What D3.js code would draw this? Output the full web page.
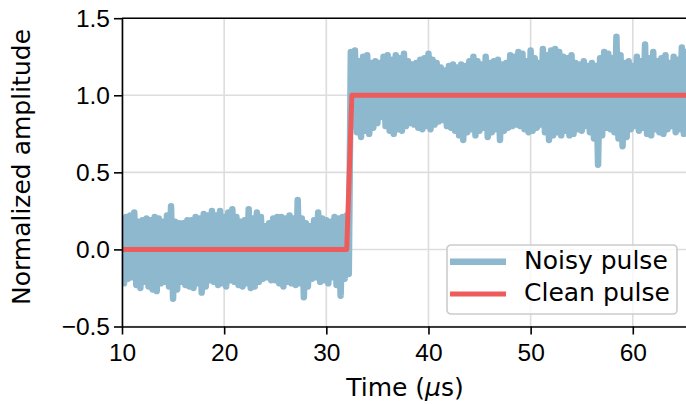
<!DOCTYPE html>
<meta charset="utf-8">
<style>

body {
  margin: 0;
  background: #fff;
}

svg {
  display: block;
  font-family: "DejaVu Sans", sans-serif;
}

.grid line {
  stroke: #dddddd;
  stroke-width: 1.6px;
}

.axis path,
.axis line {
  stroke: #000;
  stroke-width: 1.6px;
}

.axis text {
  font-size: 24.5px;
  fill: #000;
}

.label {
  font-size: 25px;
  fill: #000;
}

.noisy {
  fill: none;
  stroke: #8eb8ce;
  stroke-width: 6.5px;
  stroke-linejoin: round;
}

.clean {
  fill: none;
  stroke: #ee5b5b;
  stroke-width: 5px;
  stroke-linejoin: round;
}

</style>
<body>
<script src="https://d3js.org/d3.v7.min.js"></script>
<script>

var width = 686,
    height = 404;

// noisy pulse: peak / trough every 0.4 us from 10 us
var sampleStart = 10,
    sampleStep = 0.4;

var noisyUpper = [
  0.21, 0.21, 0.22, 0.24, 0.18, 0.19, 0.20, 0.19, 0.21, 0.20,
  0.18, 0.22, 0.28, 0.18, 0.17, 0.17, 0.19, 0.19, 0.21, 0.20,
  0.23, 0.22, 0.25, 0.22, 0.25, 0.21, 0.24, 0.26, 0.21, 0.18,
  0.19, 0.26, 0.20, 0.24, 0.21, 0.15, 0.17, 0.20, 0.21, 0.21,
  0.20, 0.22, 0.20, 0.32, 0.20, 0.17, 0.15, 0.19, 0.24, 0.20,
  0.19, 0.18, 0.21, 0.20, 0.21, 0.22,
  1.28, 1.29, 1.22, 1.25, 1.26, 1.21, 1.22, 1.21, 1.25, 1.26,
  1.23, 1.26, 1.24, 1.27, 1.22, 1.20, 1.21, 1.23, 1.24, 1.27,
  1.23, 1.21, 1.18, 1.16, 1.19, 1.20, 1.18, 1.20, 1.19, 1.22,
  1.25, 1.22, 1.20, 1.25, 1.21, 1.22, 1.23, 1.20, 1.21, 1.26,
  1.25, 1.28, 1.27, 1.22, 1.29, 1.24, 1.21, 1.30, 1.26, 1.29,
  1.30, 1.28, 1.25, 1.24, 1.26, 1.21, 1.20, 1.22, 1.19, 1.21,
  1.19, 1.24, 1.28, 1.27, 1.24, 1.38, 1.26, 1.21, 1.22, 1.19,
  1.25, 1.22, 1.33, 1.24, 1.28, 1.22, 1.24, 1.26, 1.21, 1.25,
  1.23, 1.31, 1.28, 1.24
];

var noisyLower = [
  -0.22, -0.19, -0.18, -0.23, -0.25, -0.21, -0.24, -0.26, -0.27, -0.22,
  -0.21, -0.24, -0.32, -0.26, -0.21, -0.23, -0.24, -0.25, -0.22, -0.28,
  -0.24, -0.20, -0.21, -0.23, -0.22, -0.24, -0.20, -0.21, -0.23, -0.24,
  -0.22, -0.25, -0.24, -0.21, -0.19, -0.18, -0.20, -0.20, -0.22, -0.24,
  -0.21, -0.22, -0.23, -0.22, -0.31, -0.24, -0.19, -0.18, -0.21, -0.20,
  -0.22, -0.18, -0.23, -0.30, -0.19, -0.16,
  0.80, 0.76, 0.73, 0.77, 0.75, 0.79, 0.82, 0.86, 0.80, 0.77,
  0.75, 0.78, 0.77, 0.80, 0.82, 0.81, 0.79, 0.78, 0.80, 0.78,
  0.81, 0.83, 0.84, 0.80, 0.79, 0.77, 0.74, 0.71, 0.76, 0.78,
  0.74, 0.77, 0.79, 0.73, 0.76, 0.78, 0.71, 0.77, 0.79, 0.80,
  0.81, 0.80, 0.78, 0.76, 0.77, 0.79, 0.81, 0.76, 0.71, 0.74,
  0.76, 0.74, 0.77, 0.74, 0.75, 0.78, 0.77, 0.80, 0.76, 0.72,
  0.55, 0.74, 0.79, 0.78, 0.76, 0.72, 0.67, 0.73, 0.78, 0.80,
  0.77, 0.79, 0.75, 0.74, 0.78, 0.76, 0.75, 0.78, 0.80, 0.76,
  0.78, 0.75, 0.77, 0.76
];

// clean pulse
var cleanTime = [0, 32.0, 32.5, 100];
var cleanValue = [0, 0, 1, 1];

var xTicks = [10, 20, 30, 40, 50, 60];
var yTicks = [-0.5, 0.0, 0.5, 1.0, 1.5];

var legendLabels = ["Noisy pulse", "Clean pulse"];

var plot = {left: 122, right: 690, top: 18.2, bottom: 326.5};

var x = d3.scaleLinear()
    .domain([10, 65.6])
    .range([plot.left, plot.right]);

var y = d3.scaleLinear()
    .domain([-0.5, 1.5])
    .range([plot.bottom, plot.top]);

var svg = d3.select("body").append("svg")
    .attr("width", width)
    .attr("height", height);

svg.append("defs").append("clipPath")
    .attr("id", "clip")
  .append("rect")
    .attr("x", plot.left)
    .attr("y", plot.top)
    .attr("width", plot.right - plot.left)
    .attr("height", plot.bottom - plot.top);

// grid
var grid = svg.append("g").attr("class", "grid");

grid.selectAll(".gx")
    .data(xTicks).enter()
  .append("line")
    .attr("x1", d => x(d)).attr("x2", d => x(d))
    .attr("y1", plot.top).attr("y2", plot.bottom);

grid.selectAll(".gy")
    .data(yTicks).enter()
  .append("line")
    .attr("x1", plot.left).attr("x2", plot.right)
    .attr("y1", d => y(d)).attr("y2", d => y(d));

// noisy pulse, zigzag between peak and trough of each sample
var noisyPoints = [];
noisyUpper.forEach(function(u, i) {
  var t = sampleStart + i * sampleStep;
  noisyPoints.push([t, u]);
  noisyPoints.push([t + sampleStep / 2, noisyLower[i]]);
});

var line = d3.line()
    .x(d => x(d[0]))
    .y(d => y(d[1]));

var data = svg.append("g").attr("clip-path", "url(#clip)");

data.append("path")
    .datum(noisyPoints)
    .attr("class", "noisy")
    .attr("d", line);

data.append("path")
    .datum(cleanTime.map((t, i) => [t, cleanValue[i]]))
    .attr("class", "clean")
    .attr("d", line);

// axes
svg.append("g")
    .attr("class", "axis")
    .attr("transform", "translate(" + plot.left + ",0)")
    .call(d3.axisLeft(y)
        .tickValues(yTicks)
        .tickFormat(d3.format(".1f"))
        .tickSize(8)
        .tickSizeOuter(0)
        .tickPadding(4))
    .call(g => g.selectAll("text").attr("font-family", null).attr("font-size", null));

svg.append("g")
    .attr("class", "axis")
    .attr("transform", "translate(0," + plot.bottom + ")")
    .call(d3.axisBottom(x)
        .tickValues(xTicks)
        .tickFormat(d3.format("d"))
        .tickSize(8)
        .tickSizeOuter(0)
        .tickPadding(9))
    .call(g => g.selectAll("text").attr("font-family", null).attr("font-size", null));

// top spine
svg.append("line")
    .attr("x1", plot.left).attr("x2", plot.right)
    .attr("y1", plot.top).attr("y2", plot.top)
    .attr("stroke", "#000")
    .attr("stroke-width", 1.6);

// axis labels
var xl = svg.append("text")
    .attr("class", "label")
    .attr("text-anchor", "middle")
    .attr("x", 405)
    .attr("y", 396);
xl.append("tspan").text("Time (");
xl.append("tspan").attr("font-style", "italic").text("\u03bc");
xl.append("tspan").text("s)");

svg.append("text")
    .attr("class", "label")
    .attr("text-anchor", "middle")
    .attr("transform", "translate(30,167) rotate(-90)")
    .text("Normalized amplitude");

// legend
var legend = svg.append("g")
    .attr("transform", "translate(447,245)");

legend.append("rect")
    .attr("width", 230)
    .attr("height", 69)
    .attr("rx", 4)
    .attr("fill", "#fff")
    .attr("fill-opacity", 0.8)
    .attr("stroke", "#cccccc")
    .attr("stroke-width", 1.6);

var rows = legend.selectAll(".row")
    .data(legendLabels).enter()
  .append("g")
    .attr("transform", (d, i) => "translate(0," + (16.7 + i * 32.3) + ")");

rows.append("line")
    .attr("x1", 3).attr("x2", 59)
    .attr("stroke", (d, i) => i === 0 ? "#8eb8ce" : "#ee5b5b")
    .attr("stroke-width", (d, i) => i === 0 ? 6.5 : 5);

rows.append("text")
    .attr("class", "label")
    .attr("x", 77)
    .attr("y", 7)
    .text(d => d);

</script>
